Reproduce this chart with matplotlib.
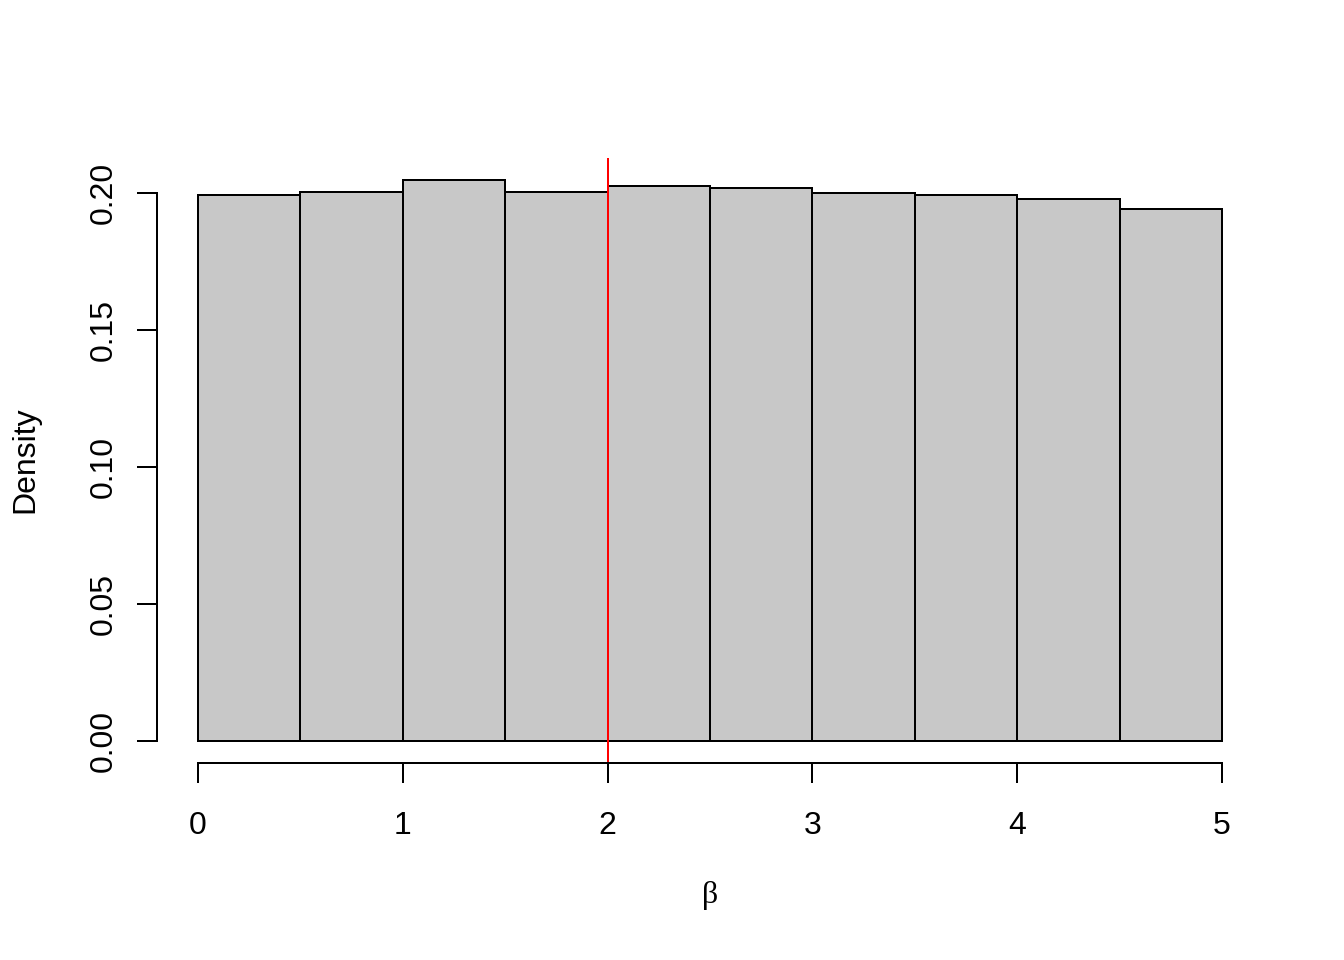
import matplotlib
matplotlib.use("Agg")
import matplotlib.pyplot as plt
import numpy as np

# Data (histogram of beta, density scale)
bin_edges = [0.0, 0.5, 1.0, 1.5, 2.0, 2.5, 3.0, 3.5, 4.0, 4.5, 5.0]
densities = [0.1993, 0.2005, 0.2047, 0.2003, 0.2026, 0.2018, 0.1999, 0.1992, 0.1977, 0.1942]
true_value = 2.0
x_ticks = [0, 1, 2, 3, 4, 5]
y_ticks = [0.00, 0.05, 0.10, 0.15, 0.20]
y_tick_labels = ["0.00", "0.05", "0.10", "0.15", "0.20"]

plt.rcParams['font.family'] = ['Liberation Sans', 'DejaVu Sans']

fig = plt.figure(figsize=(7, 5), dpi=192)
W, H = 1344, 960
left, right = 157 / W, 1263 / W
bottom, top = 1 - 763.4 / H, 1 - 157.7 / H
ax = fig.add_axes([left, bottom, right - left, top - bottom])

lw = 0.75
edges = np.array(bin_edges)
ax.bar(edges[:-1], densities, width=np.diff(edges), align='edge',
       color='#C8C8C8', edgecolor='black', linewidth=lw)

ymax = max(densities)
ax.set_xlim(-0.04 * 5, 5 + 0.04 * 5)
ax.set_ylim(-0.04 * ymax, ymax * 1.04)

ax.axvline(true_value, color='red', linewidth=lw)

for s in ['top', 'right']:
    ax.spines[s].set_visible(False)
ax.spines['left'].set_bounds(0, 0.20)
ax.spines['bottom'].set_bounds(0, 5)
ax.spines['left'].set_linewidth(lw)
ax.spines['bottom'].set_linewidth(lw)

ax.set_xticks(x_ticks)
ax.set_xticklabels([str(t) for t in x_ticks])
ax.set_yticks(y_ticks)
ax.set_yticklabels(y_tick_labels, rotation=90, va='center')
ax.tick_params(axis='both', direction='out', length=7.5, width=lw, labelsize=12)
ax.tick_params(axis='x', pad=10.5)
ax.tick_params(axis='y', pad=6.8)

fig.text(25 / W, 1 - 460 / H, "Density", rotation=90, ha='center', va='center', fontsize=12)
fig.text(710 / W, 1 - 895 / H, "\u03b2", ha='center', va='center', fontsize=12,
         family=['Liberation Serif', 'DejaVu Serif'])

fig.savefig("out.png", dpi=192)
